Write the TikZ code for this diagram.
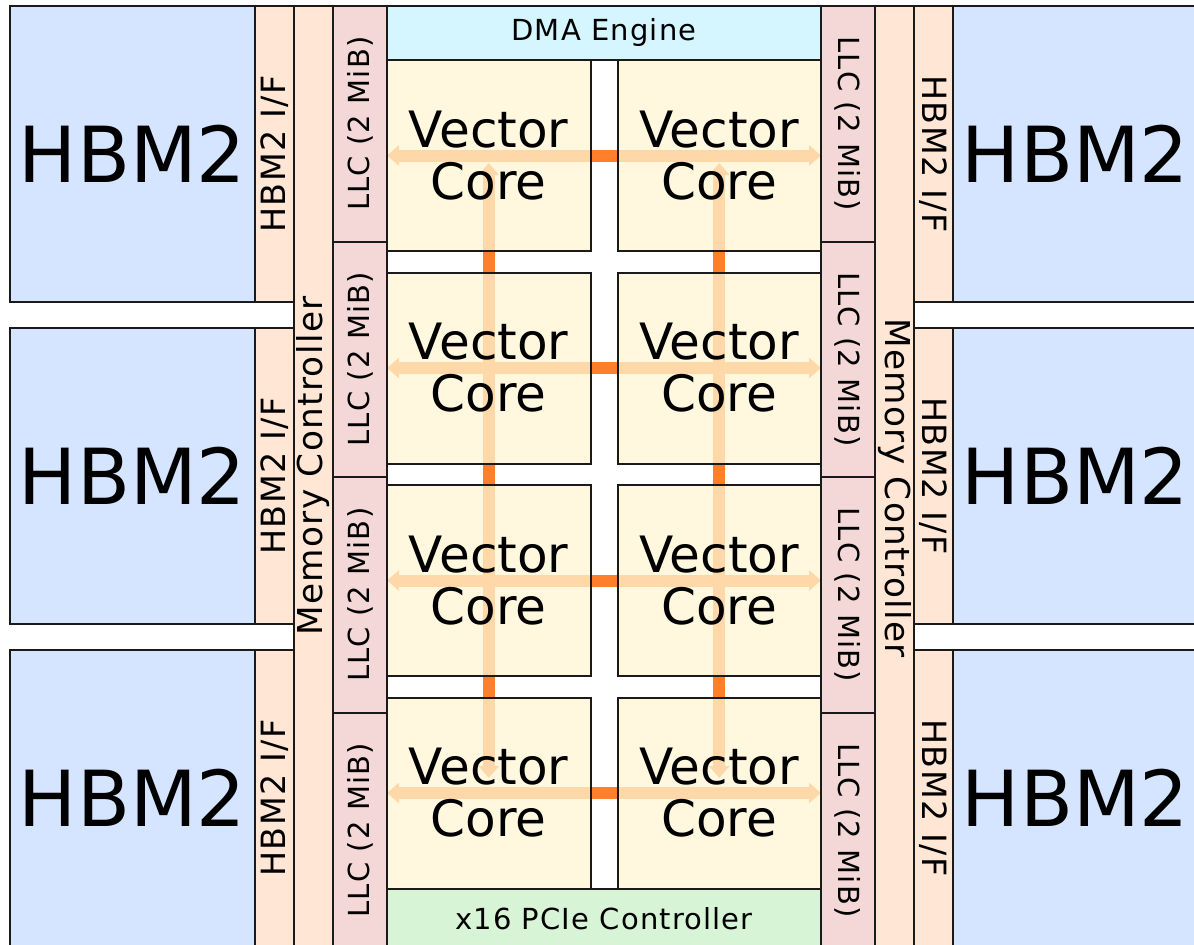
\documentclass[tikz,border=0pt]{standalone}
\usepackage{fontspec}
\setmainfont{DejaVu Sans}
\newfontfamily\lblfont[LetterSpace=4]{DejaVu Sans}
\usetikzlibrary{arrows.meta, backgrounds}
\definecolor{chbm}{HTML}{D5E5FF}
\definecolor{cif}{HTML}{FFE6D5}
\definecolor{cllc}{HTML}{F4D7D7}
\definecolor{cdma}{HTML}{D5F6FF}
\definecolor{ccore}{HTML}{FFF6D5}
\definecolor{cpcie}{HTML}{D7F4D7}
\definecolor{cbus}{HTML}{FF7F2A}
\definecolor{cline}{HTML}{1A1A1A}
\tikzset{
  every picture/.style={line width=0.04cm},
  box/.style={draw=cline, fill=#1, inner sep=0pt, outer sep=0pt, align=center},
  box/.default=cif,
  hbm/.style={box=chbm, minimum width=4.9cm, minimum height=5.92cm, font=\fontsize{44}{50}\selectfont},
  hbmif/.style={box=cif, minimum width=5.92cm, minimum height=0.78cm, font=\lblfont\fontsize{19}{20}\selectfont},
  llc/.style={box=cllc, minimum width=4.71cm, minimum height=1.08cm, font=\lblfont\fontsize{16.5}{18}\selectfont},
  bar/.style={box=#1, minimum width=8.68cm, font=\lblfont\fontsize{16.5}{18}\selectfont},
  core/.style={draw=cline, fill=ccore, fill opacity=0.75, text opacity=1, inner sep=0pt, outer sep=0pt,
    minimum width=4.07cm, minimum height=3.82cm, align=center, font=\fontsize{28.5}{29.6}\selectfont},
  bus/.style={{Triangle[length=0.24cm, width=0.4cm]}-{Triangle[length=0.24cm, width=0.4cm]}, draw=cbus, line width=0.24cm},
  mctext/.style={font=\lblfont\fontsize{19.5}{20}\selectfont},
}
\begin{document}
\begin{tikzpicture}
  \useasboundingbox (0,0) rectangle (23.88,-18.88);
  \clip (0,0) rectangle (23.88,-18.88);
  % HBM2 stacks and their interfaces
  \foreach \k in {1,2,3} {
    \node[hbm] (hl\k) at (2.65, 3.36 - 6.44*\k) {HBM2};
    \node[hbm] (hr\k) at (21.51, 3.36 - 6.44*\k) {HBM2};
    \node[hbmif, rotate=90] (il\k) at (5.49, 3.36 - 6.44*\k) {HBM2 I/F};
    \node[hbmif, rotate=-90] (ir\k) at (18.67, 3.36 - 6.44*\k) {HBM2 I/F};
  }
  % memory controllers
  \node[box, minimum width=0.78cm, minimum height=18.84cm] (mcl) at (6.27, -9.54) {};
  \node[box, minimum width=0.78cm, minimum height=18.84cm] (mcr) at (17.89, -9.54) {};
  \node[mctext, rotate=90] (mcltxt) at (6.27, -9.32) {Memory Controller};
  \node[mctext, rotate=-90] (mcrtxt) at (17.89, -9.76) {Memory Controller};
  % last level caches
  \foreach \k in {1,...,4} {
    \node[llc, rotate=90] (ll\k) at (7.2, 2.235 - 4.71*\k) {LLC (2 MiB)};
    \node[llc, rotate=-90] (lr\k) at (16.96, 2.235 - 4.71*\k) {LLC (2 MiB)};
  }
  \node[bar=cdma, minimum height=1.08cm] (dma) at (12.08, -0.66) {DMA Engine};
  \node[bar=cpcie, minimum height=1.19cm] (pcie) at (12.08, -18.365) {x16 PCIe Controller};
  % vector cores, 4 rows x 2 columns
  \foreach \r in {1,...,4} {
    \node[core] (c\r1) at (9.775, 1.14 - 4.25*\r) {Vector\\Core};
    \node[core] (c\r2) at (14.385, 1.14 - 4.25*\r) {Vector\\Core};
  }
  % on-chip network, seen through the cores
  \begin{pgfonlayer}{background}
    \fill[white] (0,0) rectangle (23.88,-18.88);
    \foreach \r in {1,...,4} \draw[bus] (c\r1.west) -- (c\r2.east);
    \foreach \c in {1,2} \draw[bus, shorten <=0.15cm, shorten >=0.3cm] (c1\c.center) -- (c4\c.center);
  \end{pgfonlayer}
\end{tikzpicture}
\end{document}
